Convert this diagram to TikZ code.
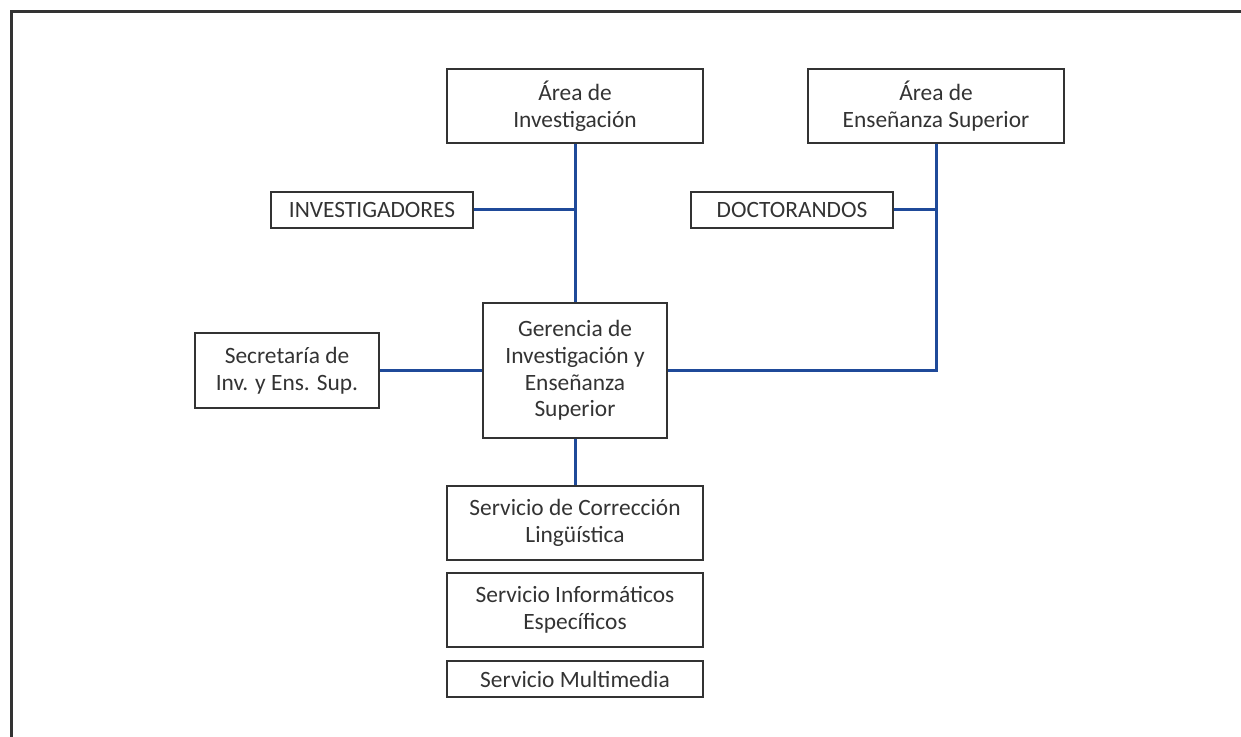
\documentclass[tikz,border=0pt]{standalone}
\usepackage{fontspec}
\setmainfont{Carlito}
\definecolor{linkblue}{HTML}{1F4A99}
\definecolor{boxgray}{HTML}{333333}
\begin{document}
\begin{tikzpicture}[x=0.5pt,y=-0.5pt,
    box/.style={draw=boxgray,line width=0.9pt,inner sep=0pt,align=center,text=boxgray,
        font=\fontsize{11.7}{13.4}\selectfont},
    link/.style={draw=linkblue,line width=1.5pt}]
            \useasboundingbox (0,0) rectangle (1241,737);
            \draw[boxgray,line width=1.5pt] (1241,12) -- (11,12) -- (11,737);

            \node[box,minimum width=128pt,minimum height=37pt] (areainv) at (575,106) {Área de\\Investigación};
            \node[box,minimum width=128pt,minimum height=37pt] (areaens) at (936,106) {Área de\\Enseñanza Superior};
            \node[box,minimum width=101pt,minimum height=18pt] (invest) at (372,210) {INVESTIGADORES};
            \node[box,minimum width=101pt,minimum height=18pt] (doct) at (792,210) {DOCTORANDOS};
            \node[box,minimum width=92pt,minimum height=67.5pt] (gerencia) at (575,370.5) {Gerencia de\\Investigación y\\Enseñanza\\Superior};
            \node[box,minimum width=92pt,minimum height=37.5pt] (secret) at (287,370.5) {Secretaría de\\Inv. y Ens. Sup.};
            \node[box,minimum width=128pt,minimum height=37pt] (correc) at (575,523) {Servicio de Corrección\\Lingüística};
            \node[box,minimum width=128pt,minimum height=37pt] (infor) at (575,610) {Servicio Informáticos\\Específicos};
            \node[box,minimum width=128pt,minimum height=18pt] (multi) at (575,679) {Servicio Multimedia};

            \draw[link] (areainv.south) -- (gerencia.north)
                   (invest.east) -- (invest.east -| areainv.south)
                   (doct.east) -- (doct.east -| areaens.south)
                   (areaens.south) |- (gerencia.east)
                   (secret.east) -- (gerencia.west)
                   (gerencia.south) -- (correc.north);
        \end{tikzpicture}
\end{document}
